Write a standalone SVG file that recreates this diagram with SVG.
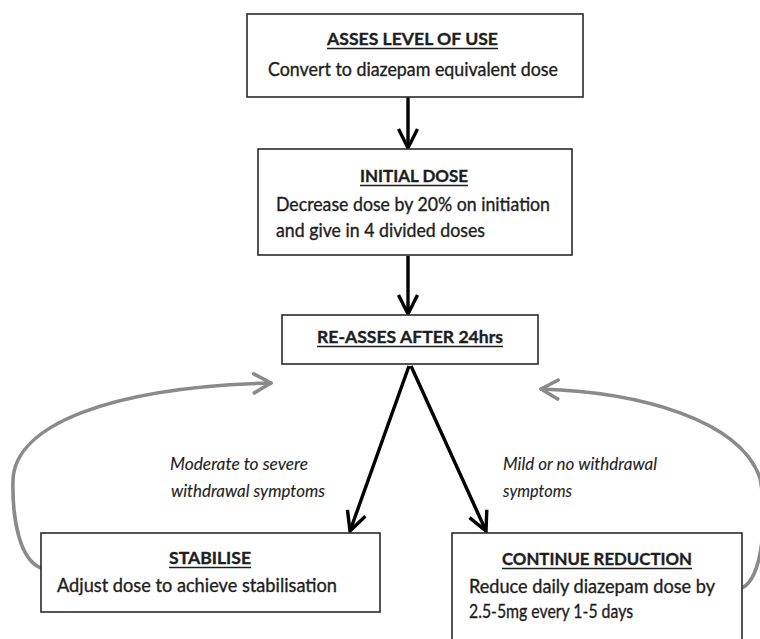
<svg xmlns="http://www.w3.org/2000/svg" width="760" height="639" viewBox="0 0 760 639">
<style>
.box{fill:#fff;stroke:#2a2a2a;stroke-width:1.6}
.t{font-family:Lato,"Liberation Sans",sans-serif;fill:#1e1e1e;stroke:#1e1e1e;stroke-width:0.35}
.ti{font-size:17.5px;font-weight:bold}
.bd{font-size:18.5px}
.lb{font-size:16.5px;font-style:italic;stroke-width:0.1}
.ul{stroke:#1e1e1e;stroke-width:1.5}
.arr{stroke:#000;stroke-width:3.4;fill:none}
.gr{stroke:#8a8a8a;stroke-width:3.6;fill:none;stroke-linecap:round}
</style>
<defs>
<marker id="ab" markerUnits="userSpaceOnUse" viewBox="-22 -12 26 24" refX="0" refY="0" markerWidth="26" markerHeight="24" orient="auto">
<path d="M-19,-9.5 L0,0 L-19,9.5" fill="none" stroke="#000" stroke-width="3.4"/>
</marker>
<marker id="ag" markerUnits="userSpaceOnUse" viewBox="-22 -12 26 24" refX="0" refY="0" markerWidth="26" markerHeight="24" orient="auto">
<path d="M-17,-9.5 L0,0 L-17,9.5" fill="none" stroke="#8a8a8a" stroke-width="3.6" stroke-linecap="round" stroke-linejoin="round"/>
</marker>
</defs>
<g id="connectors">
<line class="arr" x1="408" y1="97" x2="408" y2="148" marker-end="url(#ab)"/>
<line class="arr" x1="408" y1="256" x2="408" y2="314" marker-end="url(#ab)"/>
<line class="arr" x1="409" y1="366" x2="350" y2="531" marker-end="url(#ab)"/>
<line class="arr" x1="411" y1="366" x2="486" y2="531" marker-end="url(#ab)"/>
<path class="gr" d="M41,568 C20,560 12,520 13,480 C15,425 110,387 271,383" marker-end="url(#ag)"/>
<path class="gr" d="M742,588 C762,578 768,520 760,478 C740,420 640,392 541,389" marker-end="url(#ag)"/>
<text class="t lb" x="170" y="470" textLength="138" lengthAdjust="spacingAndGlyphs">Moderate to severe</text>
<text class="t lb" x="171" y="497" textLength="154" lengthAdjust="spacingAndGlyphs">withdrawal symptoms</text>
<text class="t lb" x="503" y="470" textLength="154" lengthAdjust="spacingAndGlyphs">Mild or no withdrawal</text>
<text class="t lb" x="503" y="497" textLength="69" lengthAdjust="spacingAndGlyphs">symptoms</text>
</g>
<g id="asses">
<rect class="box" x="247" y="14" width="336" height="83"/>
<text class="t ti" x="327" y="45" textLength="171" lengthAdjust="spacingAndGlyphs">ASSES LEVEL OF USE</text>
<line class="ul" x1="327" y1="48.5" x2="498" y2="48.5"/>
<text class="t bd" x="268" y="76" textLength="290" lengthAdjust="spacingAndGlyphs">Convert to diazepam equivalent dose</text>
</g>
<g id="initial">
<rect class="box" x="258" y="149" width="314" height="106"/>
<text class="t ti" x="360" y="182" textLength="108" lengthAdjust="spacingAndGlyphs">INITIAL DOSE</text>
<line class="ul" x1="360" y1="185.5" x2="468" y2="185.5"/>
<text class="t bd" x="276" y="211" textLength="274" lengthAdjust="spacingAndGlyphs">Decrease dose by 20% on initiation</text>
<text class="t bd" x="276" y="237" textLength="209" lengthAdjust="spacingAndGlyphs">and give in 4 divided doses</text>
</g>
<g id="reasses">
<rect class="box" x="282" y="315" width="256" height="49"/>
<text class="t ti" x="317" y="343" textLength="186" lengthAdjust="spacingAndGlyphs">RE-ASSES AFTER 24hrs</text>
<line class="ul" x1="317" y1="346.5" x2="503" y2="346.5"/>
</g>
<g id="stabilise">
<rect class="box" x="41" y="533" width="339" height="79"/>
<text class="t ti" x="169" y="564" textLength="82" lengthAdjust="spacingAndGlyphs">STABILISE</text>
<line class="ul" x1="169" y1="567.5" x2="251" y2="567.5"/>
<text class="t bd" x="57" y="592" textLength="280" lengthAdjust="spacingAndGlyphs">Adjust dose to achieve stabilisation</text>
</g>
<g id="continue">
<rect class="box" x="452" y="533" width="290" height="120"/>
<text class="t ti" x="502" y="565" textLength="190" lengthAdjust="spacingAndGlyphs">CONTINUE REDUCTION</text>
<line class="ul" x1="502" y1="568.5" x2="692" y2="568.5"/>
<text class="t bd" x="469" y="593" textLength="246" lengthAdjust="spacingAndGlyphs">Reduce daily diazepam dose by</text>
<text class="t bd" x="469" y="618" textLength="164" lengthAdjust="spacingAndGlyphs">2.5-5mg every 1-5 days</text>
</g>
</svg>
